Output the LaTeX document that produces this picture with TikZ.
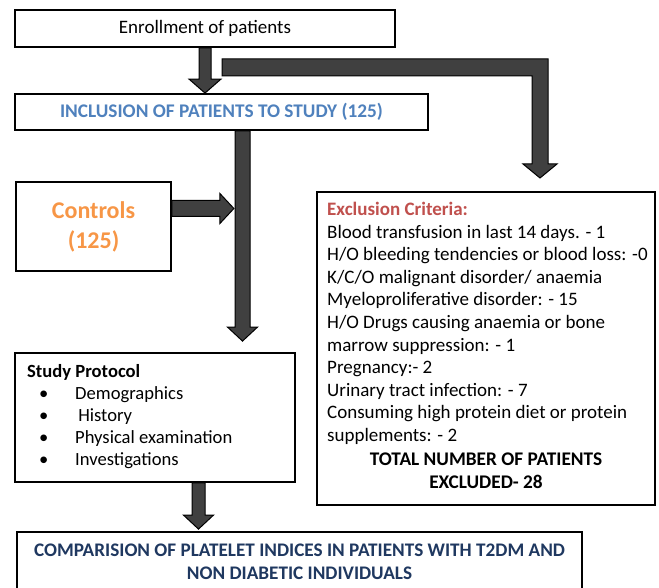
\documentclass[tikz,border=0pt]{standalone}
\usepackage{fontspec}
\setmainfont{Carlito}
\usepackage{xcolor}
\usetikzlibrary{calc}

\definecolor{inclblue}{RGB}{79,129,189}
\definecolor{ctrlorange}{RGB}{247,150,70}
\definecolor{exclred}{RGB}{192,80,77}
\definecolor{finalnavy}{RGB}{31,56,96}
\definecolor{arrgray}{RGB}{64,64,64}

\tikzset{
  boxst/.style={draw, line width=1.8pt, inner sep=0pt},
  blkarr/.style={fill=arrgray, draw=black, line width=1pt, line join=miter},
}

% #1 shaft half width, #2 head half width, #3 from, #4 tip
\newcommand{\blockarrow}[4]{%
  \path ($(#4)!14pt!(#3)$) coordinate (hb);
  \filldraw[blkarr] ($(#3)!#1!90:(#4)$) -- ($(hb)!#1!90:(#4)$) -- ($(hb)!#2!90:(#4)$)
    -- (#4) -- ($(hb)!#2!-90:(#4)$) -- ($(hb)!#1!-90:(#4)$) -- ($(#3)!#1!-90:(#4)$) -- cycle;}

\begin{document}
\begin{tikzpicture}[x=1pt, y=-1pt]
      \clip (0,0) rectangle (659,588);
      \fill[white] (0,0) rectangle (659,588);

      \node[boxst, minimum width=380, minimum height=37,
            font=\fontsize{19}{22}\selectfont] (enrol) at (205,28.5) {Enrollment of patients};
      \node[boxst, minimum width=413, minimum height=36,
            font=\fontsize{19.3}{22}\selectfont\bfseries, text=inclblue] (incl) at (221.5,112) {INCLUSION OF PATIENTS TO STUDY (125)};
      \node[boxst, minimum width=155, minimum height=89, align=center,
            font=\fontsize{24}{30}\selectfont\bfseries, text=ctrlorange] (ctrl) at (93.5,226.5) {Controls\\(125)};
      \node[boxst, minimum width=338, minimum height=313] (excl) at (486,348.5) {};
      \node[boxst, minimum width=280, minimum height=129] (study) at (155,417.5) {};
      \node[boxst, minimum width=565, minimum height=70] (final) at (299.5,567) {};

      % texts inside the boxes
      \node[anchor=north west, inner sep=0pt, align=left,
            font=\fontsize{19}{22.6}\selectfont] (excltext) at (327,202) {%
        \textcolor{exclred}{\textbf{Exclusion Criteria:}}\\
        Blood transfusion in last 14 days. - 1\\
        H/O bleeding tendencies or blood loss: -0\\
        K/C/O malignant disorder/ anaemia\\
        Myeloproliferative disorder: - 15\\
        H/O Drugs causing anaemia or bone\\
        marrow suppression: - 1\\
        Pregnancy:- 2\\
        Urinary tract infection: - 7\\
        Consuming high protein diet or protein\\
        supplements: - 2};
      \node[anchor=north, inner sep=0pt, align=center,
            font=\fontsize{19.3}{22.6}\selectfont\bfseries] (total) at (486,453) {%
        TOTAL NUMBER OF PATIENTS\\EXCLUDED- 28};
      \node[anchor=north west, inner sep=0pt, align=left,
            font=\fontsize{18.6}{22}\selectfont] (studytext) at (27,364) {%
        \textbf{Study Protocol}\\
        \hspace*{12pt}\makebox[36pt][l]{\textbullet}Demographics\\
        \hspace*{12pt}\makebox[36pt][l]{\textbullet}\,History\\
        \hspace*{12pt}\makebox[36pt][l]{\textbullet}Physical examination\\
        \hspace*{12pt}\makebox[36pt][l]{\textbullet}Investigations};
      \node[align=center, inner sep=0pt, text=finalnavy,
            font=\fontsize{19.2}{23.5}\selectfont\bfseries] (finaltext) at (299.5,562) {%
        COMPARISION OF PLATELET INDICES IN PATIENTS WITH T2DM AND\\
        NON DIABETIC INDIVIDUALS};

      % connectors
      \coordinate (vline) at (242.5,0);
      \coordinate (sline) at (198.5,0);
      \coordinate (bar) at (222,67.5);
      \coordinate (bend) at (540,67.5);
      \coordinate (extip) at (540,178);

      \blockarrow{6pt}{16pt}{enrol.south}{incl.north -| enrol.south}
      \blockarrow{7.5pt}{15pt}{incl.south -| vline}{$(study.north -| vline)+(0,-11)$}
      \blockarrow{8pt}{15pt}{$(ctrl.east)+(0,-18)$}{$(ctrl.east)+(62,-18)$}
      \blockarrow{6.5pt}{15pt}{study.south -| sline}{$(final.north -| sline)+(0,-2)$}

      \filldraw[blkarr] ($(bar)+(0,-8.5)$) -- ($(bend)+(8,-8.5)$) -- ($(extip)+(8,-14)$)
        -- ($(extip)+(17,-14)$) -- (extip) -- ($(extip)+(-17,-14)$) -- ($(extip)+(-8,-14)$)
        -- ($(bend)+(-8,8.5)$) -- ($(bar)+(0,8.5)$) -- cycle;
\end{tikzpicture}
\end{document}
